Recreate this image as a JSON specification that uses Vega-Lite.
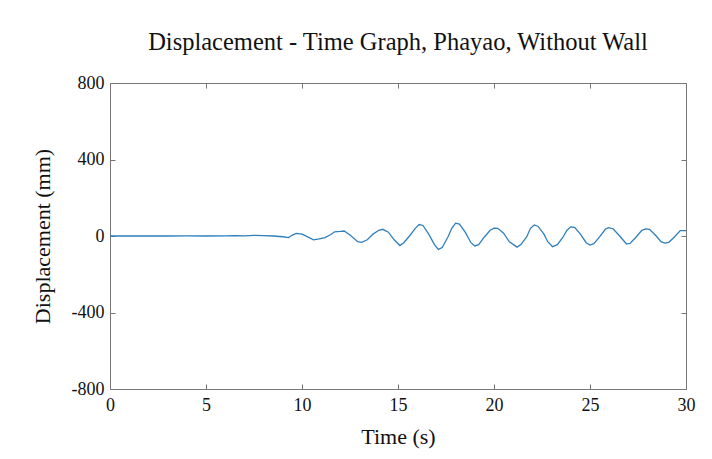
{
  "$schema": "https://vega.github.io/schema/vega-lite/v6.json",
  "autosize": {"type": "none"},
  "padding": {"left": 110, "top": 83, "right": 26, "bottom": 70},
  "width": 576,
  "height": 306,
  "background": "white",
  "title": {"text": "Displacement - Time Graph, Phayao, Without Wall", "font": "Liberation Serif", "fontSize": 24.5, "fontWeight": "normal", "color": "#111", "anchor": "middle", "offset": 19},
  "config": {"view": {"stroke": null}},
  "data": {"values": [
    {"t": 0, "d": 0}, {"t": 1, "d": 0}, {"t": 2, "d": 0}, {"t": 3, "d": 0}, {"t": 4, "d": 0.5}, {"t": 5, "d": 0},
    {"t": 6, "d": 1}, {"t": 6.5, "d": 2}, {"t": 7, "d": 1}, {"t": 7.5, "d": 3}, {"t": 8, "d": 2}, {"t": 8.5, "d": 0},
    {"t": 9, "d": -4}, {"t": 9.3, "d": -8}, {"t": 9.5, "d": 5}, {"t": 9.7, "d": 14}, {"t": 10.0, "d": 10}, {"t": 10.3, "d": -5},
    {"t": 10.6, "d": -20}, {"t": 10.9, "d": -15}, {"t": 11.2, "d": -8}, {"t": 11.5, "d": 8}, {"t": 11.7, "d": 22}, {"t": 12.0, "d": 24},
    {"t": 12.2, "d": 26}, {"t": 12.5, "d": 5}, {"t": 12.9, "d": -30}, {"t": 13.1, "d": -33}, {"t": 13.4, "d": -20}, {"t": 13.7, "d": 10},
    {"t": 14.0, "d": 30}, {"t": 14.2, "d": 35}, {"t": 14.5, "d": 20}, {"t": 14.8, "d": -20}, {"t": 15.1, "d": -50}, {"t": 15.3, "d": -35},
    {"t": 15.6, "d": 0}, {"t": 15.9, "d": 40}, {"t": 16.1, "d": 60}, {"t": 16.3, "d": 55}, {"t": 16.6, "d": 10}, {"t": 16.9, "d": -45},
    {"t": 17.1, "d": -70}, {"t": 17.3, "d": -60}, {"t": 17.6, "d": -5}, {"t": 17.8, "d": 40}, {"t": 18.0, "d": 67}, {"t": 18.2, "d": 62},
    {"t": 18.5, "d": 20}, {"t": 18.8, "d": -35}, {"t": 19.0, "d": -52}, {"t": 19.2, "d": -45}, {"t": 19.5, "d": -5}, {"t": 19.8, "d": 30},
    {"t": 20.0, "d": 41}, {"t": 20.2, "d": 40}, {"t": 20.5, "d": 15}, {"t": 20.8, "d": -30}, {"t": 21.2, "d": -58}, {"t": 21.4, "d": -45},
    {"t": 21.7, "d": -5}, {"t": 21.9, "d": 40}, {"t": 22.1, "d": 58}, {"t": 22.3, "d": 50}, {"t": 22.6, "d": 10}, {"t": 22.8, "d": -30},
    {"t": 23.05, "d": -56}, {"t": 23.3, "d": -45}, {"t": 23.6, "d": -5}, {"t": 23.8, "d": 30}, {"t": 24.0, "d": 48}, {"t": 24.2, "d": 45},
    {"t": 24.5, "d": 10}, {"t": 24.8, "d": -35}, {"t": 25.0, "d": -47}, {"t": 25.2, "d": -40}, {"t": 25.5, "d": -5}, {"t": 25.8, "d": 35},
    {"t": 25.95, "d": 44}, {"t": 26.2, "d": 38}, {"t": 26.5, "d": 5}, {"t": 26.9, "d": -42}, {"t": 27.1, "d": -38}, {"t": 27.4, "d": -5},
    {"t": 27.7, "d": 30}, {"t": 27.9, "d": 37}, {"t": 28.1, "d": 35}, {"t": 28.4, "d": 5}, {"t": 28.7, "d": -30}, {"t": 28.9, "d": -37},
    {"t": 29.1, "d": -33}, {"t": 29.4, "d": -5}, {"t": 29.7, "d": 28}, {"t": 30.0, "d": 28}
  ]},
  "layer": [
    {
      "mark": {"type": "line", "color": "#2f7fbd", "strokeWidth": 1.3},
      "encoding": {
        "x": {"field": "t", "type": "quantitative", "scale": {"domain": [0, 30], "nice": false, "zero": false},
          "axis": {"orient": "bottom", "values": [0, 5, 10, 15, 20, 25, 30], "title": "Time (s)", "grid": false, "labelFlush": false,
            "domainColor": "#777", "tickColor": "#777", "tickSize": -5, "labelPadding": 12,
            "labelFont": "Liberation Serif", "labelFontSize": 18, "labelColor": "#111",
            "titleFont": "Liberation Serif", "titleFontSize": 22, "titleFontWeight": "normal", "titleColor": "#111", "titlePadding": 12}},
        "y": {"field": "d", "type": "quantitative", "scale": {"domain": [-800, 800], "nice": false},
          "axis": {"orient": "left", "values": [-800, -400, 0, 400, 800], "title": "Displacement (mm)", "grid": false, "labelFlush": false,
            "labelExpr": "'' + datum.value",
            "domainColor": "#777", "tickColor": "#777", "tickSize": -5, "labelPadding": 11,
            "labelFont": "Liberation Serif", "labelFontSize": 18, "labelColor": "#111",
            "titleFont": "Liberation Serif", "titleFontSize": 22, "titleFontWeight": "normal", "titleColor": "#111", "titlePadding": 17}}
      }
    },
    {
      "mark": {"type": "line", "opacity": 0},
      "encoding": {
        "x": {"field": "t", "type": "quantitative", "scale": {"domain": [0, 30], "nice": false, "zero": false},
          "axis": {"orient": "top", "values": [0, 5, 10, 15, 20, 25, 30], "title": null, "labels": false, "grid": false,
            "domainColor": "#777", "tickColor": "#777", "tickSize": -5}},
        "y": {"field": "d", "type": "quantitative", "scale": {"domain": [-800, 800], "nice": false},
          "axis": {"orient": "right", "values": [-800, -400, 0, 400, 800], "title": null, "labels": false, "grid": false,
            "domainColor": "#777", "tickColor": "#777", "tickSize": -5}}
      }
    }
  ],
  "resolve": {"axis": {"x": "independent", "y": "independent"}}
}
